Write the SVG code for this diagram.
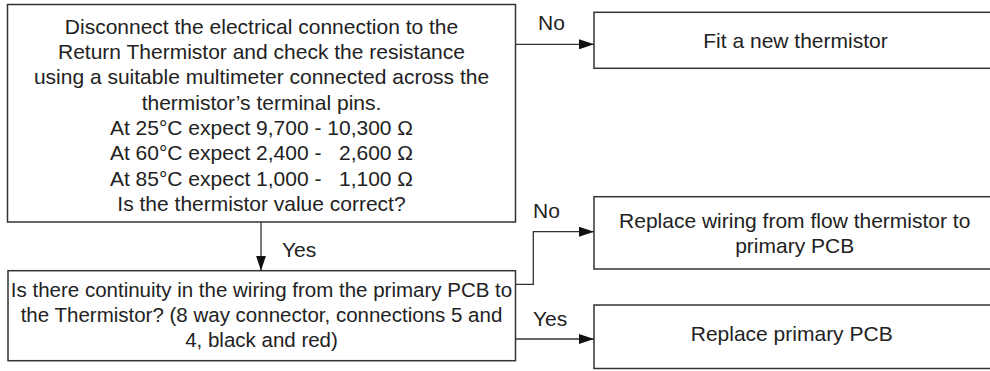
<svg xmlns="http://www.w3.org/2000/svg" width="990" height="371" viewBox="0 0 990 371">
<defs>
<marker id="arr" viewBox="0 0 15 10" refX="15" refY="5" markerWidth="15" markerHeight="10" markerUnits="userSpaceOnUse" orient="auto">
<path d="M0,0 L15,5 L0,10 Z" fill="#111"/>
</marker>
<style>
.box{fill:#fff;stroke:#333;stroke-width:1.5}
.t{font-family:"Liberation Sans",Arial,sans-serif;font-size:21px;fill:#222;text-anchor:middle;white-space:pre}
.l{font-family:"Liberation Sans",Arial,sans-serif;font-size:21px;fill:#222;text-anchor:start}
.c{fill:none;stroke:#333;stroke-width:1.3;marker-end:url(#arr)}
</style>
</defs>
<rect width="990" height="371" fill="#fff"/>
<g id="check-resistance">
<rect class="box" x="7.5" y="4.5" width="508" height="217.5"/>
<text class="t" x="261.5" y="33.8">Disconnect the electrical connection to the</text>
<text class="t" x="261.5" y="59.1">Return Thermistor and check the resistance</text>
<text class="t" x="261.5" y="84.4">using a suitable multimeter connected across the</text>
<text class="t" x="261.5" y="109.7">thermistor’s terminal pins.</text>
<text class="t" x="261.5" y="135">At 25°C expect 9,700 - 10,300 Ω</text>
<text class="t" x="261.5" y="160.3">At 60°C expect 2,400 -   2,600 Ω</text>
<text class="t" x="261.5" y="185.6">At 85°C expect 1,000 -   1,100 Ω</text>
<text class="t" x="261.5" y="211">Is the thermistor value correct?</text>
</g>
<g id="fit-new">
<rect class="box" x="594" y="12.3" width="403" height="56"/>
<text class="t" x="795.5" y="47.5">Fit a new thermistor</text>
</g>
<g id="check-continuity">
<rect class="box" x="8" y="270.7" width="507.5" height="90"/>
<text class="t" x="261.5" y="296.5" style="font-size:20.5px">Is there continuity in the wiring from the primary PCB to</text>
<text class="t" x="261.5" y="321.5" style="font-size:20.5px">the Thermistor? (8 way connector, connections 5 and</text>
<text class="t" x="261.5" y="346.5" style="font-size:20.5px">4, black and red)</text>
</g>
<g id="replace-wiring">
<rect class="box" x="594" y="196.7" width="403" height="72.3"/>
<text class="t" x="794.7" y="227.5">Replace wiring from flow thermistor to</text>
<text class="t" x="794.7" y="253">primary PCB</text>
</g>
<g id="replace-pcb">
<rect class="box" x="594" y="305" width="403" height="63.5"/>
<text class="t" x="791.7" y="341">Replace primary PCB</text>
</g>
<g id="connectors">
<path class="c" d="M515.5,44.3 H594"/>
<path class="c" d="M261,222 V270.7"/>
<path class="c" d="M515.5,284.3 H533.3 V231.7 H594"/>
<path class="c" d="M515.5,339 H594"/>
<text class="l" x="538" y="29.5">No</text>
<text class="l" x="282" y="256.5">Yes</text>
<text class="l" x="533" y="218">No</text>
<text class="l" x="533" y="326">Yes</text>
</g>
</svg>
